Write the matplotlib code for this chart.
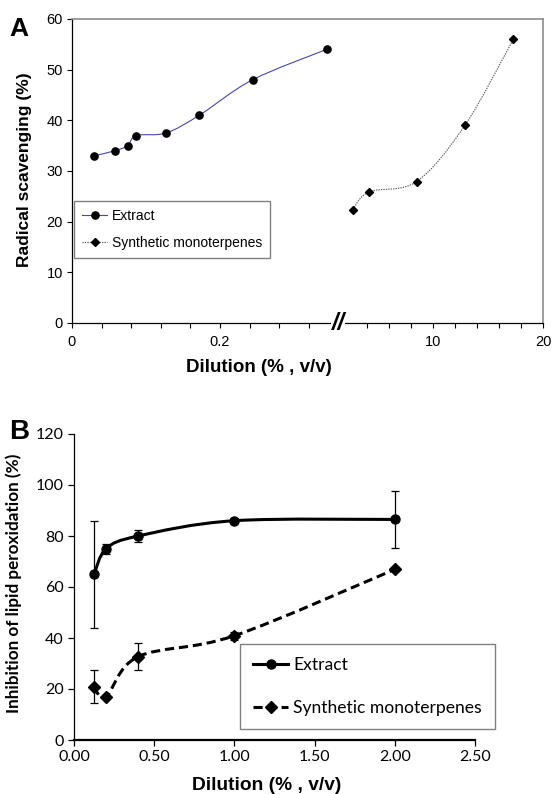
#!/usr/bin/env python3
"""Radical scavenging (A) and lipid peroxidation inhibition (B) vs dilution."""

import numpy as np
import matplotlib

matplotlib.use("Agg")
import matplotlib.pyplot as plt
from matplotlib.path import Path
from matplotlib.patches import PathPatch
from matplotlib.lines import Line2D

# ---- panel A data ----
a_extract_x = [0.03, 0.058, 0.075, 0.087, 0.127, 0.172, 0.244, 0.344]
a_extract_y = [33.0, 34.0, 35.0, 37.0, 37.5, 41.0, 48.0, 54.0]
a_synth_x = [2.7, 4.2, 8.5, 12.9, 17.3]
a_synth_y = [22.4, 25.9, 27.9, 39.0, 56.0]

# ---- panel B data ----
b_x = [0.125, 0.2, 0.4, 1.0, 2.0]
b_extract_y = [65.0, 75.0, 80.0, 86.0, 86.5]
b_extract_err = [21.0, 2.0, 2.5, 1.0, 11.3]
b_synth_y = [20.9, 17.0, 32.7, 40.9, 66.9]
b_synth_err = [6.4, 0.0, 5.3, 1.5, 0.0]

W, H = 553, 794
ARIAL = "Liberation Sans"
CALIBRI = "Lato"

# broken x axis for panel A: 0..0.36 on the left, 2..20 on the right
_brk_v = np.array([0.0, 0.36, 2.0, 20.0])
_brk_u = np.array([0.0, 266.4, 273.0, 471.0])


def _fwd(v):
    return np.interp(v, _brk_v, _brk_u)


def _inv(u):
    return np.interp(u, _brk_u, _brk_v)


def smooth_path(xs, ys):
    """Excel-like smoothed line as cubic Bezier segments through the points."""
    pts = np.column_stack([xs, ys]).astype(float)
    n = len(pts)
    verts = [pts[0]]
    codes = [Path.MOVETO]
    for i in range(n - 1):
        p0 = pts[i - 1] if i > 0 else pts[i]
        p1 = pts[i]
        p2 = pts[i + 1]
        p3 = pts[i + 2] if i + 2 < n else pts[i + 1]
        verts += [p1 + (p2 - p0) / 6.0, p2 - (p3 - p1) / 6.0, p2]
        codes += [Path.CURVE4] * 3
    return Path(verts, codes)


def add_curve(ax, xs, ys, **kw):
    patch = PathPatch(smooth_path(xs, ys), facecolor="none", **kw)
    ax.add_patch(patch)
    return patch


fig = plt.figure(figsize=(W / 100, H / 100), dpi=100)

# ================= panel A =================
axA = fig.add_axes([72 / W, 1 - 323 / H, 471 / W, 304 / H])
axA.set_xscale("function", functions=(_fwd, _inv))
axA.set_xlim(0, 20)
axA.set_ylim(0, 60)

ext_col = "#4848a8"
syn_col = "#555555"
add_curve(axA, a_extract_x, a_extract_y, edgecolor=ext_col, lw=0.8, zorder=2)
add_curve(axA, a_synth_x, a_synth_y, edgecolor=syn_col, lw=0.8,
          linestyle=(0, (1.2, 1.0)), zorder=2)
axA.plot(a_extract_x, a_extract_y, ls="none", marker="o", ms=5.2, color="black", zorder=3)
axA.plot(a_synth_x, a_synth_y, ls="none", marker="D", ms=4.2, color="black", zorder=3)

axA.set_yticks(np.arange(0, 61, 10))
axA.set_xticks([0, 0.2, 10, 20])
axA.set_xticklabels(["0", "0.2", "10", "20"])
axA.set_xticks([0.04, 0.08, 0.12, 0.16, 0.24, 0.28, 0.32, 4, 6, 8, 12, 14, 16, 18],
               minor=True)
axA.tick_params(axis="both", which="both", direction="out", length=3.5, width=0.8,
                labelsize=10.5, colors="black", pad=3)
axA.tick_params(axis="x", pad=5)
for lab in axA.get_xticklabels() + axA.get_yticklabels():
    lab.set_fontfamily(ARIAL)
axA.tick_params(axis="x", which="minor", length=3.5)
for side in ("top", "right"):
    axA.spines[side].set_color("#8c8c8c")
    axA.spines[side].set_linewidth(1.2)
for side in ("left", "bottom"):
    axA.spines[side].set_color("black")
    axA.spines[side].set_linewidth(0.9)

axA.text(0.565, 0.0, "//", transform=axA.transAxes, ha="center", va="center",
         fontsize=17, fontweight="bold", fontstyle="italic", family=ARIAL,
         bbox=dict(facecolor="white", edgecolor="none", pad=0.5), zorder=5,
         clip_on=False)

axA.set_xlabel("Dilution (% , v/v)", family=ARIAL, fontweight="bold", fontsize=13.5)
axA.xaxis.set_label_coords((259 - 72) / 471, (323 - 367) / 304)
axA.xaxis.label.set_va("center")
axA.set_ylabel("Radical scavenging (%)", family=ARIAL, fontweight="bold", fontsize=12.5)
axA.yaxis.set_label_coords((25 - 72) / 471, (323 - 170) / 304)
axA.yaxis.label.set_va("center")

hA = [
    Line2D([], [], color=ext_col, lw=0.8, marker="o", ms=5.2, mfc="black", mec="black"),
    Line2D([], [], color=syn_col, lw=0.8, ls=(0, (1.2, 1.0)), marker="D", ms=4.2,
           mfc="black", mec="black"),
]
legA = axA.legend(hA, ["Extract", "Synthetic monoterpenes"], loc="upper left",
                  bbox_to_anchor=(2 / 471, (323 - 200.7) / 304), borderaxespad=0,
                  prop={"family": ARIAL, "size": 10}, frameon=True, fancybox=False,
                  edgecolor="#808080", framealpha=1, handlelength=1.8,
                  handletextpad=0.3, labelspacing=0.9, borderpad=0.6)
legA.get_frame().set_linewidth(1.0)

fig.text(9 / W, 1 - 36 / H, "A", family=ARIAL, fontweight="bold", fontsize=19,
         ha="left", va="baseline")

# ================= panel B =================
axB = fig.add_axes([74 / W, 1 - 740 / H, 401 / W, 306 / H])
axB.set_xlim(0, 2.5)
axB.set_ylim(0, 120)

add_curve(axB, b_x, b_extract_y, edgecolor="black", lw=2.2, zorder=2)
add_curve(axB, b_x, b_synth_y, edgecolor="black", lw=2.2,
          linestyle=(0, (3.0, 1.6)), zorder=2)
axB.errorbar(b_x, b_extract_y, yerr=b_extract_err, ls="none", marker="o", ms=6.5,
             color="black", ecolor="black", elinewidth=0.9, capsize=2.6,
             capthick=0.9, zorder=3)
axB.errorbar(b_x, b_synth_y, yerr=b_synth_err, ls="none", marker="D", ms=5.8,
             color="black", ecolor="black", elinewidth=0.9, capsize=2.6,
             capthick=0.9, zorder=3)

axB.set_yticks(np.arange(0, 121, 20))
axB.set_xticks(np.arange(0, 2.51, 0.5))
axB.set_xticklabels([f"{v:.2f}" for v in np.arange(0, 2.51, 0.5)])
axB.tick_params(axis="both", direction="out", length=4, width=0.9, labelsize=11.5,
                colors="black")
for lab in axB.get_xticklabels() + axB.get_yticklabels():
    lab.set_fontfamily(CALIBRI)
axB.spines["top"].set_visible(False)
axB.spines["right"].set_visible(False)
axB.spines["left"].set_linewidth(0.9)
axB.spines["bottom"].set_linewidth(1.6)

axB.set_xlabel("Dilution (% , v/v)", family=ARIAL, fontweight="bold", fontsize=13.8)
axB.xaxis.set_label_coords((267 - 74) / 401, (740 - 785) / 306)
axB.xaxis.label.set_va("center")
axB.set_ylabel("Inhibition of lipid peroxidation (%)", family=CALIBRI,
               fontweight="bold", fontsize=12.3)
axB.yaxis.set_label_coords((14 - 74) / 401, (740 - 583) / 306)
axB.yaxis.label.set_va("center")

hB = [
    Line2D([], [], color="black", lw=2.2, marker="o", ms=6.5),
    Line2D([], [], color="black", lw=2.2, ls=(0, (3.0, 1.6)), marker="D", ms=5.8),
]
legB = axB.legend(hB, ["Extract", "Synthetic monoterpenes"], loc="upper left",
                  bbox_to_anchor=((240 - 74) / 401, (740 - 644) / 306), borderaxespad=0,
                  prop={"family": CALIBRI, "size": 12.6}, frameon=True, fancybox=False,
                  edgecolor="#808080", framealpha=1, handlelength=2.0,
                  handletextpad=0.3, labelspacing=1.55, borderpad=0.75)
legB.get_frame().set_linewidth(1.0)

fig.text(9 / W, 1 - 439 / H, "B", family=ARIAL, fontweight="bold", fontsize=20,
         ha="left", va="baseline")

fig.savefig("out.png", dpi=100)
